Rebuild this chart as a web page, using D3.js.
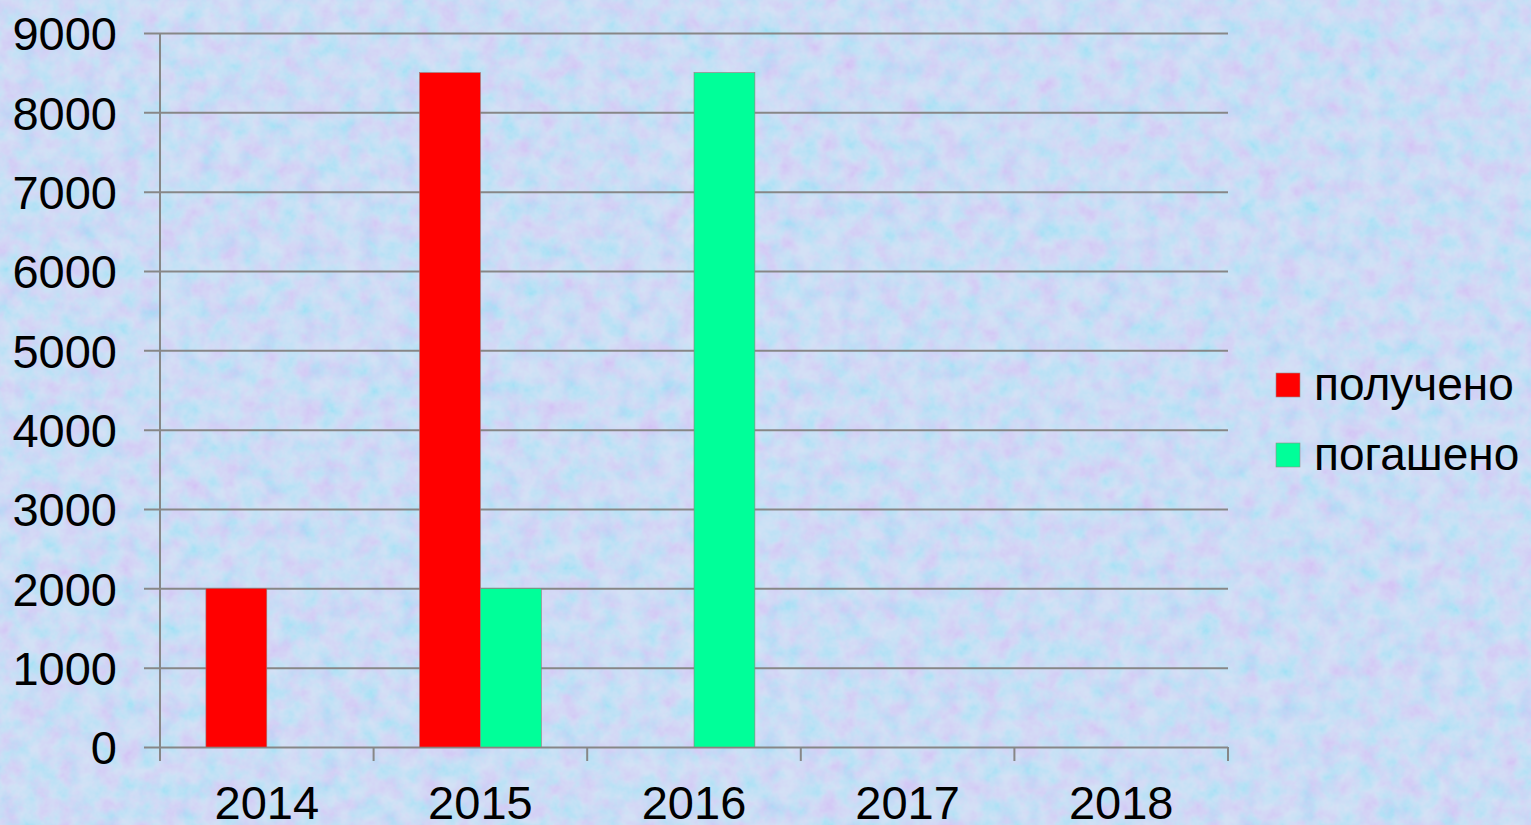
<!DOCTYPE html>
<html>
<head>
<meta charset="utf-8">
<title>chart</title>
<script src="https://d3js.org/d3.v7.min.js"></script>
<style>
  body { margin: 0; overflow: hidden; }
  text { font-family: "Liberation Sans", Arial, sans-serif; fill: #000; }
</style>
</head>
<body>
<script>
// data
var years = ["2014", "2015", "2016", "2017", "2018"];
var seriesNames = ["получено", "погашено"];
var received = [2000, 8500, 0, 0, 0];
var repaid = [0, 2000, 8500, 0, 0];
var yTicks = [0, 1000, 2000, 3000, 4000, 5000, 6000, 7000, 8000, 9000];
var colors = ["#ff0000", "#00ff99"];

var W = 1531, H = 825;
var mLeft = 160, mRight = 1228, mTop = 33, mBottom = 747;

var svg = d3.select("body").append("svg")
    .attr("width", W)
    .attr("height", H);

// textured background (soft blue with faint pink)
var defs = svg.append("defs");
var f = defs.append("filter").attr("id", "tex")
    .attr("x", 0).attr("y", 0).attr("width", "100%").attr("height", "100%");
f.append("feTurbulence")
    .attr("type", "fractalNoise")
    .attr("baseFrequency", 0.05)
    .attr("numOctaves", 4)
    .attr("seed", 7)
    .attr("result", "n");
f.append("feColorMatrix")
    .attr("in", "n")
    .attr("type", "matrix")
    .attr("values", "1.6 0 0 0 0.0  -0.6 0.9 0 0 0.72  0 0 0 0 0.96  0 0 0 0 0.32");

svg.append("rect").attr("width", W).attr("height", H).attr("fill", "#bed3f3");
svg.append("rect").attr("width", W).attr("height", H).attr("filter", "url(#tex)");

var y = d3.scaleLinear().domain([0, 9000]).range([mBottom, mTop]);
var x = d3.scaleBand().domain(years).range([mLeft, mRight]).padding(0);
var x1 = d3.scaleBand().domain(d3.range(seriesNames.length))
    .range([0, x.bandwidth()]).paddingInner(0).paddingOuter(0.754);

// gridlines + y labels
var yAxis = svg.append("g")
    .attr("transform", "translate(144,0)")
    .call(d3.axisLeft(y).tickValues(yTicks).tickSize(-(mRight - 144)).tickPadding(27).tickFormat(d3.format("d")));
yAxis.select(".domain").remove();
yAxis.selectAll(".tick line").attr("stroke", "#878787").attr("stroke-width", 2);
yAxis.selectAll(".tick text").attr("font-size", 47).attr("dy", "0.36em");

// vertical axis line
svg.append("line")
    .attr("x1", mLeft).attr("x2", mLeft)
    .attr("y1", mTop).attr("y2", mBottom + 14)
    .attr("stroke", "#878787").attr("stroke-width", 2);

// bars
var groups = svg.append("g").selectAll("g")
    .data(years)
    .join("g")
    .attr("transform", function(d) { return "translate(" + x(d) + ",0)"; });

groups.selectAll("rect")
    .data(function(d, i) { return [received[i], repaid[i]]; })
    .join("rect")
    .attr("x", function(d, i) { return x1(i); })
    .attr("width", x1.bandwidth())
    .attr("y", function(d) { return y(d); })
    .attr("height", function(d) { return y(0) - y(d); })
    .attr("fill", function(d, i) { return colors[i]; })
    .attr("stroke", function(d) { return d > 0 ? "#9a7a7a" : "none"; })
    .attr("stroke-width", 0.6);

// x axis ticks at band boundaries
var bounds = years.map(function(d) { return x(d); }).concat([mRight]);
svg.append("g").selectAll("line")
    .data(bounds)
    .join("line")
    .attr("x1", function(d) { return d; }).attr("x2", function(d) { return d; })
    .attr("y1", mBottom).attr("y2", mBottom + 14)
    .attr("stroke", "#878787").attr("stroke-width", 2);

svg.append("g").selectAll("text")
    .data(years)
    .join("text")
    .attr("x", function(d) { return x(d) + x.bandwidth() / 2; })
    .attr("y", 819)
    .attr("text-anchor", "middle")
    .attr("font-size", 47)
    .text(function(d) { return d; });

// legend
var legend = svg.append("g").selectAll("g")
    .data(seriesNames)
    .join("g")
    .attr("transform", function(d, i) { return "translate(1276," + (373 + i * 70) + ")"; });
legend.append("rect")
    .attr("width", 24).attr("height", 24)
    .attr("fill", function(d, i) { return colors[i]; })
    .attr("stroke", "#9a8a8a").attr("stroke-width", 0.6);
legend.append("text")
    .attr("x", 38).attr("y", 27)
    .attr("font-size", 46)
    .text(function(d) { return d; });
</script>
</body>
</html>
